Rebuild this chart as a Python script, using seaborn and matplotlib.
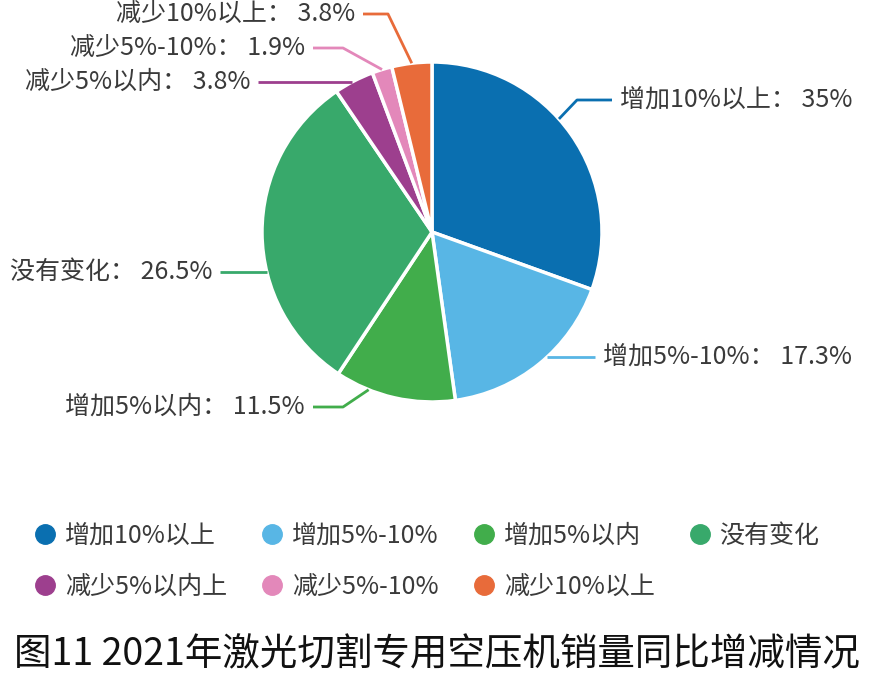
import matplotlib
matplotlib.use("Agg")
import matplotlib.pyplot as plt
import numpy as np
import seaborn as sns
from matplotlib.lines import Line2D

# slice sizes as drawn in the picture (in %), and the numbers printed on labels
categories = ["增加10%以上", "增加5%-10%", "增加5%以内", "没有变化",
              "减少5%以内", "减少5%-10%", "减少10%以上"]
slice_sizes = [30.5, 17.3, 11.5, 31.2, 3.8, 1.9, 3.8]
label_values = ["35%", "17.3%", "11.5%", "26.5%", "3.8%", "1.9%", "3.8%"]
legend_labels = ["增加10%以上", "增加5%-10%", "增加5%以内", "没有变化",
                 "减少5%以内上", "减少5%-10%", "减少10%以上"]
colors = ["#0a6fb0", "#58b6e5", "#41ad4b", "#38a96b",
          "#9d3f8e", "#e388ba", "#e86b3a"]
title = "图11 2021年激光切割专用空压机销量同比增减情况"

W, H = 872, 673
CX, CY, R = 432, 232, 170

# label layout in pixels: (text x, text y, ha, straight leader?, elbow length, anchor fraction in wedge)
layout = [
    (620, 100, "left", False, 35, 0.44),
    (603, 357, "left", True, 0, 0.5),
    (305, 407, "right", False, 30, 0.72),
    (212, 272, "right", True, 0, 0.5),
    (250, 82, "right", True, 0, 0.5),
    (305, 48, "right", False, 30, 0.5),
    (355, 14, "right", False, 25, 0.5),
]

sns.set_theme(style="white")
plt.rcParams["font.family"] = ["Noto Sans CJK SC", "DejaVu Sans"]
palette = sns.color_palette(colors)

fig = plt.figure(figsize=(W / 100, H / 100), dpi=100)
ax = fig.add_axes([0, 0, 1, 1])

# inverted y axis -> start at -90 and go counterclockwise in data = clockwise on screen
wedges, _ = ax.pie(slice_sizes, colors=palette, startangle=-90, counterclock=True,
                   center=(CX, CY), radius=R,
                   wedgeprops=dict(edgecolor="white", linewidth=2.5))
ax.set_xlim(0, W)
ax.set_ylim(H, 0)
ax.set_aspect("auto")
ax.axis("off")

for w, cat, val, (tx, ty, ha, straight, elbow, frac), c in zip(
        wedges, categories, label_values, layout, palette):
    gap = 8 if ha == "left" else -8
    lx = tx - gap
    if straight:
        dx = np.sqrt(R ** 2 - (ty - CY) ** 2)
        sx = CX + dx if ha == "left" else CX - dx
        xs, ys = [sx, lx], [ty, ty]
    else:
        ang = np.deg2rad(w.theta1 + frac * (w.theta2 - w.theta1))
        sx, sy = CX + R * np.cos(ang), CY + R * np.sin(ang)
        ex = lx - elbow if ha == "left" else lx + elbow
        xs, ys = [sx, ex, lx], [sy, ty, ty]
    ax.plot(xs, ys, color=c, lw=2, solid_capstyle="butt")
    ax.text(tx, ty, f"{cat}： {val}", ha=ha, va="center", fontsize=18,
            color="#3a3a3a")

# legend fills column by column, so interleave to get the two rows right
order = [0, 4, 1, 5, 2, 6, 3]
handles = [Line2D([], [], marker="o", linestyle="", markersize=14,
                  markerfacecolor=palette[i], markeredgecolor=palette[i]) for i in order]
fig.legend(handles, [legend_labels[i] for i in order], ncol=4, loc="upper left",
           bbox_to_anchor=(10 / W, 1 - 500 / H), frameon=False,
           handletextpad=0.3, columnspacing=1.3,
           labelspacing=1.0, handlelength=1.0, labelcolor="#3a3a3a",
           prop=dict(family=["Noto Sans CJK SC", "DejaVu Sans"], size=18))

fig.text(437 / W, 1 - 655 / H, title, ha="center", va="center",
         fontsize=27, color="#111111")

fig.savefig("out.png", dpi=100)
